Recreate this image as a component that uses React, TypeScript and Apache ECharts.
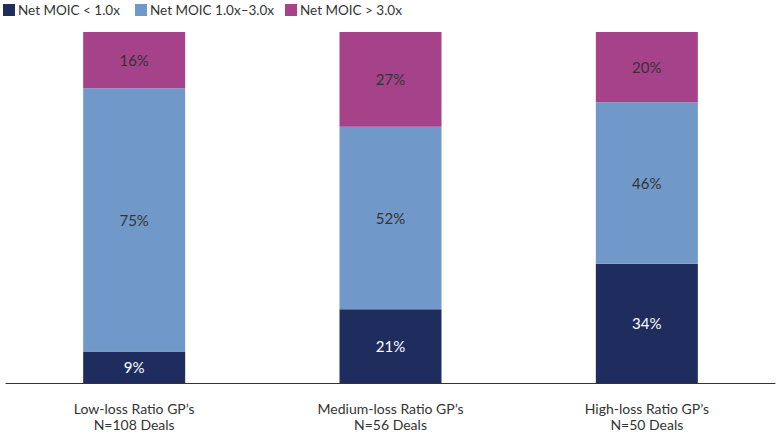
import { useEffect, useRef } from "react";
import * as echarts from "echarts";

const categories = ["Low-loss Ratio GP’s\nN=108 Deals", "Medium-loss Ratio GP’s\nN=56 Deals", "High-loss Ratio GP’s\nN=50 Deals"];
const legendNames = ["Net MOIC < 1.0x", "Net MOIC 1.0x–3.0x", "Net MOIC > 3.0x"];
const colors = ["#1f2d5e", "#7099c9", "#a5428a"];
const lowMoic = [9, 21, 34];
const midMoic = [75, 52, 46];
const highMoic = [16, 27, 20];

// legend item left edges (px)
const legendX = [3, 135, 285];

const FONT = "Lato, 'Noto Sans', sans-serif";

export default function App() {
  const ref = useRef<HTMLDivElement>(null);

  useEffect(() => {
    if (!ref.current) return;
    const chart = echarts.init(ref.current, null, { renderer: "svg" });
    const seg = (i: number, data: number[], labelColor: string) => ({
      name: legendNames[i], type: "bar" as const, stack: "a", data, barWidth: 102,
      itemStyle: { color: colors[i] },
      label: { show: true, position: "inside" as const, formatter: "{c}%", color: labelColor, fontSize: 15, fontFamily: FONT },
    });
    const legendGraphic = legendNames.flatMap((name, i) => [
      { type: "rect", shape: { x: legendX[i], y: 4, width: 12, height: 12 }, style: { fill: colors[i] } },
      {
        type: "text", x: legendX[i] + 15, y: 10,
        style: { text: name, fill: "#333", fontSize: 13.5, fontFamily: FONT, align: "left", verticalAlign: "middle" },
      },
    ]);
    chart.setOption({
      animation: false,
      textStyle: { fontFamily: FONT },
      graphic: legendGraphic,
      grid: { left: 6, right: 5, top: 32, bottom: 57, containLabel: false },
      xAxis: {
        type: "category", data: categories,
        axisLine: { lineStyle: { color: "#333", width: 1 } },
        axisTick: { show: false },
        axisLabel: { color: "#333", fontSize: 14, lineHeight: 16, margin: 17, fontFamily: FONT },
      },
      yAxis: { type: "value", min: 0, max: 100, show: false },
      series: [
        seg(0, lowMoic, "#ffffff"),
        seg(1, midMoic, "#333333"),
        seg(2, highMoic, "#333333"),
      ],
    });
    return () => chart.dispose();
  }, []);

  return <div ref={ref} style={{ position: "absolute", left: 0, top: 0, width: 780, height: 440 }} />;
}
